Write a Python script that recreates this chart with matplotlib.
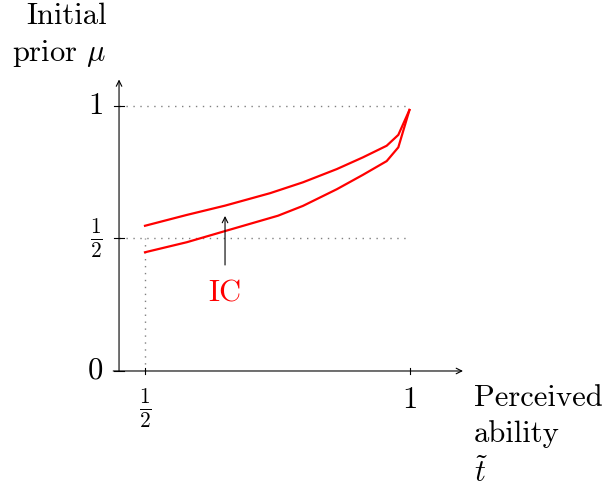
import matplotlib
matplotlib.use('Agg')
import matplotlib.pyplot as plt

plt.rcParams['font.family'] = 'serif'
plt.rcParams['font.serif'] = ['cmr10', 'DejaVu Serif']
plt.rcParams['mathtext.fontset'] = 'cm'
plt.rcParams['axes.unicode_minus'] = False

# Upper and lower boundary of the IC region
upper_x = [0.5, 0.579, 0.651, 0.736, 0.798, 0.862, 0.911, 0.956, 0.978, 0.999]
upper_y = [0.548, 0.589, 0.624, 0.671, 0.712, 0.762, 0.806, 0.850, 0.891, 0.985]
lower_x = [0.5, 0.579, 0.651, 0.751, 0.798, 0.862, 0.911, 0.956, 0.978, 0.999]
lower_y = [0.448, 0.486, 0.528, 0.586, 0.623, 0.686, 0.740, 0.792, 0.844, 0.985]

x_ticks = [0.5, 1.0]
x_tick_labels = [r'$\frac{1}{2}$', '1']
y_ticks = [0.0, 0.5, 1.0]
y_tick_labels = ['0', r'$\frac{1}{2}$', '1']

fig = plt.figure(figsize=(6.03, 4.86), dpi=100)
ax = fig.add_axes([0, 0, 1, 1])
ax.set_xlim(0.2264, 1.3642)
ax.set_ylim(-0.434, 1.4)
ax.axis('off')

fs = 22
x0 = 0.451  # where the vertical axis sits

# axes with arrows
ax.annotate('', xy=(1.10, 0), xytext=(0.44, 0),
            arrowprops=dict(arrowstyle='->', lw=0.8, color='black', shrinkA=0, shrinkB=0))
ax.annotate('', xy=(x0, 1.10), xytext=(x0, 0),
            arrowprops=dict(arrowstyle='->', lw=0.8, color='black', shrinkA=0, shrinkB=0))

# dotted guides
ax.plot([x0, 1.0], [1.0, 1.0], ls=(0, (1, 4)), color='gray', lw=1)
ax.plot([x0, 1.0], [0.5, 0.5], ls=(0, (1, 4)), color='gray', lw=1)
ax.plot([0.5, 0.5], [0, 0.5], ls=(0, (1, 4)), color='gray', lw=1)

# tick marks and labels
for xt, lab in zip(x_ticks, x_tick_labels):
    ax.plot([xt, xt], [-0.012, 0.012], color='black', lw=0.8)
    ax.text(xt, -0.06, lab, ha='center', va='top', fontsize=fs)
for yt, lab in zip(y_ticks, y_tick_labels):
    ax.plot([x0 - 0.01, x0 + 0.01], [yt, yt], color='black', lw=0.8)
    ax.text(x0 - 0.03, yt, lab, ha='right', va='center', fontsize=fs)

# IC curves
ax.plot(upper_x, upper_y, color='red', lw=1.6)
ax.plot(lower_x, lower_y, color='red', lw=1.6)

# IC label with arrow
ax.annotate('', xy=(0.651, 0.585), xytext=(0.651, 0.40),
            arrowprops=dict(arrowstyle='->', lw=0.8, color='black', shrinkA=0, shrinkB=0))
ax.text(0.651, 0.29, 'IC', color='red', ha='center', va='center', fontsize=fs)

# axis titles
ax.text(0.428, 1.39, 'Initial\nprior $\\mu$', ha='right', va='top',
        fontsize=fs, linespacing=1.35)
ax.text(1.12, -0.053, 'Perceived\nability\n$\\tilde{t}$', ha='left', va='top',
        fontsize=fs, linespacing=1.35)

fig.savefig('out.png', dpi=100)
